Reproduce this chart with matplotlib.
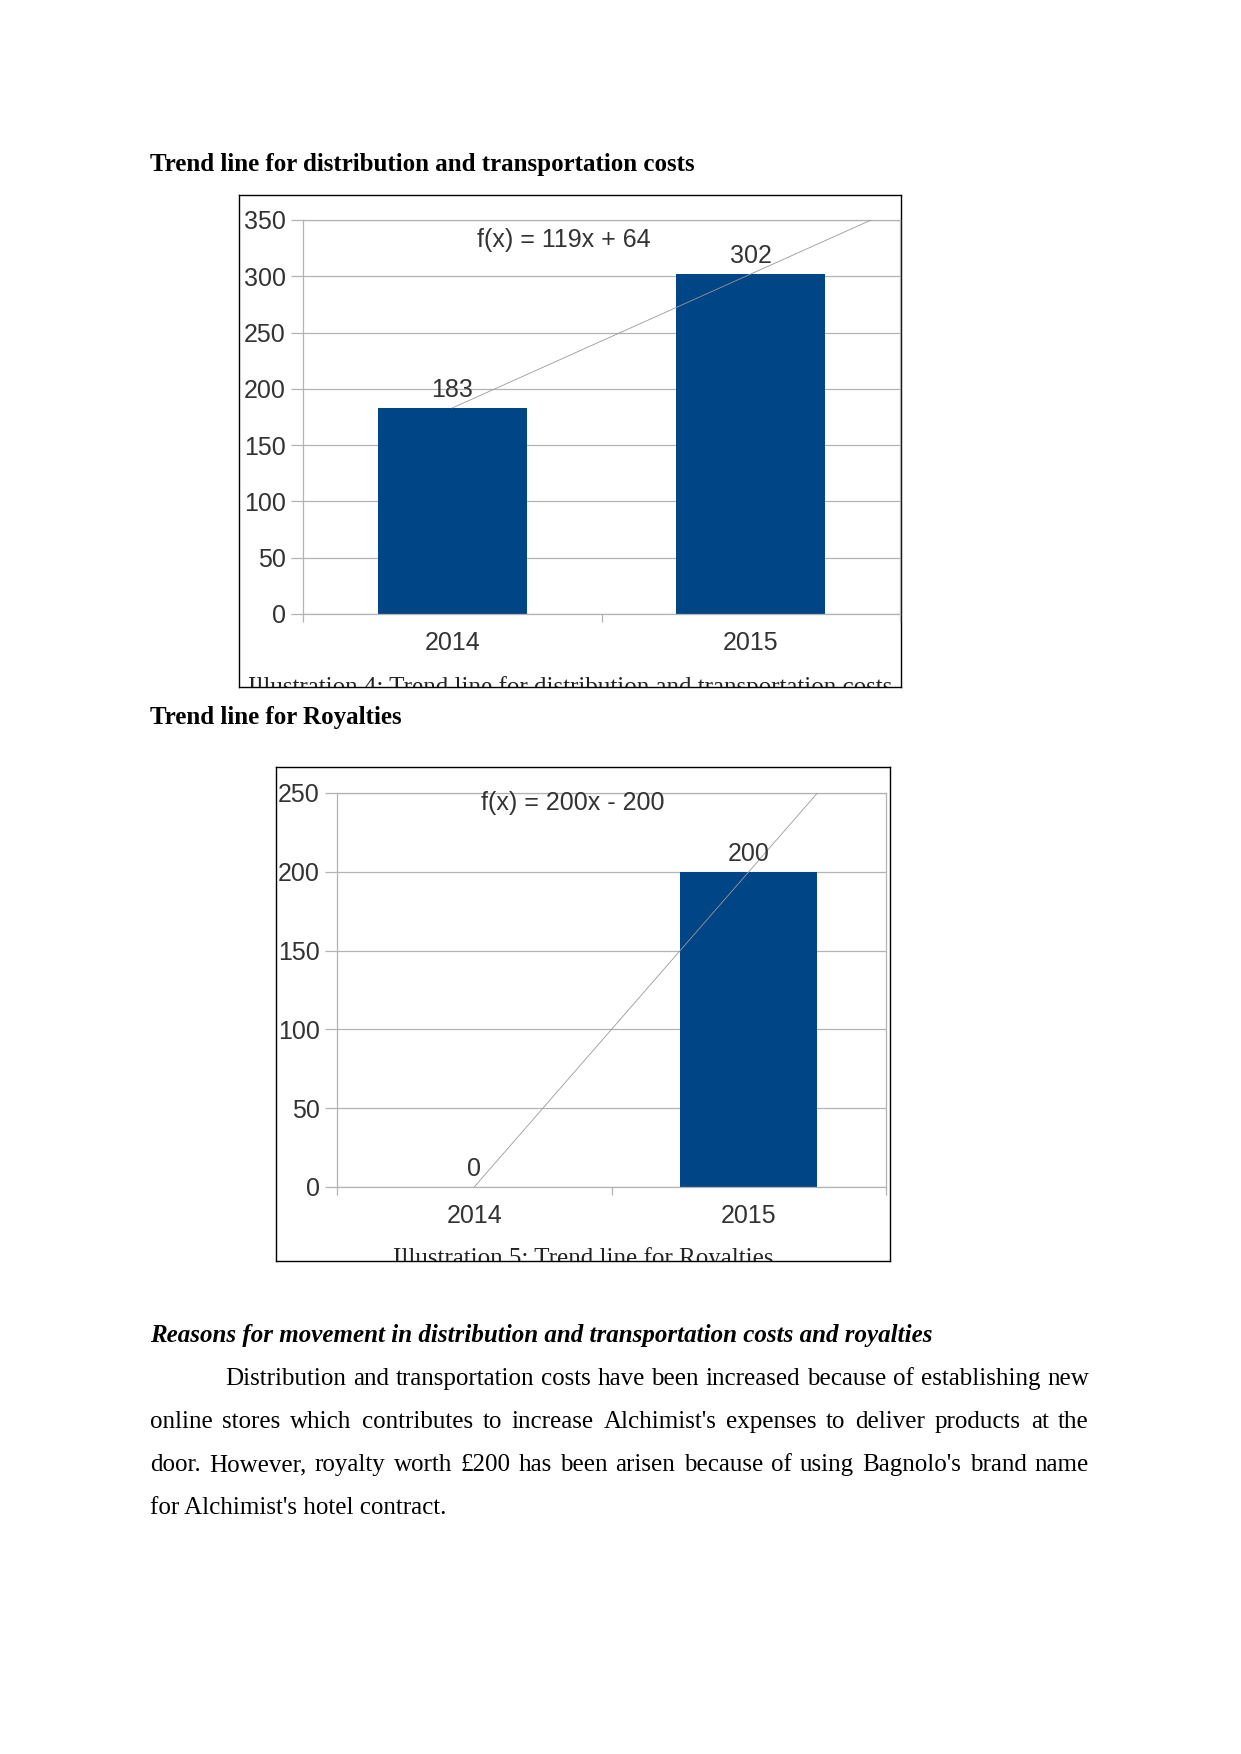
import matplotlib
matplotlib.use('Agg')
import matplotlib.pyplot as plt
import numpy as np

plt.rcParams['font.family'] = ['Liberation Sans', 'DejaVu Sans']

W, H = 1241, 1754

# data
years = ['2014', '2015']
dist_costs = [183, 302]
royalties = [0, 200]
dist_trend = (119, 64)     # f(x) = 119x + 64
roy_trend = (200, -200)    # f(x) = 200x - 200

body_lines = [
    "Distribution and transportation costs have been increased because of establishing new",
    "online stores which contributes to increase Alchimist's expenses to deliver products at the",
    "door. However, royalty worth £200 has been arisen because of using Bagnolo's brand name",
    "for Alchimist's hotel contract.",
]

BAR = '#004586'
GRID = '#b3b3b3'
TXT = '#333333'
SERIF = 'Liberation Serif'

fig = plt.figure(figsize=(W / 100, H / 100), dpi=100)


def box(x0, y0, x1, y1):
    # pixel box (top-left origin) -> figure fraction rect
    return [x0 / W, 1 - y1 / H, (x1 - x0) / W, (y1 - y0) / H]


def chart(frame, plot, vals, trend, ymax, eq, eq_xy, caption, cap_y):
    fa = fig.add_axes(box(*frame))
    fa.set_xticks([])
    fa.set_yticks([])
    for s in fa.spines.values():
        s.set_color('black')
        s.set_linewidth(1.0)
    fa.text(0.5, cap_y, caption, ha='center', va='top', family=SERIF,
            fontsize=18, color='#222222', clip_on=True, transform=fa.transAxes)

    ax = fig.add_axes(box(*plot))
    x = np.arange(len(vals))
    ax.bar(x, vals, width=0.5, color=BAR, zorder=2)

    slope, icpt = trend
    tx = np.array([0, 1.5])
    ax.plot(tx, slope * (tx + 1) + icpt, color='#999999', lw=0.6, zorder=3)

    for xi, v in zip(x, vals):
        ax.annotate(str(v), (xi, v), xytext=(0, 13), textcoords='offset points',
                    ha='center', va='center', fontsize=18, color=TXT, zorder=4)

    ax.text(eq_xy[0], eq_xy[1], eq, transform=ax.transAxes, ha='center',
            va='center', fontsize=18, color=TXT)

    ax.set_xlim(-0.5, 1.5)
    ax.set_ylim(0, ymax)
    ax.set_yticks(range(0, ymax + 1, 50))
    ax.yaxis.grid(True, color=GRID, lw=0.9)
    ax.set_axisbelow(True)
    ax.tick_params(axis='y', length=8.5, width=0.9, color=GRID, pad=4,
                   labelsize=18, labelcolor=TXT)
    ax.set_xticks(x)
    ax.set_xticklabels(years)
    ax.set_xticks([-0.5, 0.5, 1.5], minor=True)
    ax.tick_params(axis='x', which='major', length=0, pad=12, labelsize=18,
                   labelcolor=TXT)
    ax.tick_params(axis='x', which='minor', length=6, width=0.9, color=GRID)
    for s in ax.spines.values():
        s.set_color(GRID)
        s.set_linewidth(0.9)
    ax.set_facecolor('none')


chart((239, 195, 901, 687), (303, 220, 900, 614), dist_costs, dist_trend, 350,
      'f(x) = 119x + 64', (0.437, 0.949),
      'Illustration 4: Trend line for distribution and transportation costs', 0.022)

chart((276, 767, 890, 1261), (337, 793, 886, 1187), royalties, roy_trend, 250,
      'f(x) = 200x - 200', (0.43, 0.975),
      'Illustration 5: Trend line for Royalties', 0.028)

# document text
fig.text(150 / W, 1 - 171 / H, 'Trend line for distribution and transportation costs',
         family=SERIF, weight='bold', fontsize=18, va='baseline')
fig.text(150 / W, 1 - 724 / H, 'Trend line for Royalties',
         family=SERIF, weight='bold', fontsize=18, va='baseline')
fig.text(150 / W, 1 - 1342 / H,
         'Reasons for movement in distribution and transportation costs and royalties',
         family=SERIF, weight='bold', style='italic', fontsize=18, va='baseline')

r = fig.canvas.get_renderer()
left, right = 150, 1089
baselines = [1385, 1428, 1471, 1514]
for i, (line, yb) in enumerate(zip(body_lines, baselines)):
    x0 = 225 if i == 0 else left
    if i == len(body_lines) - 1:
        fig.text(x0 / W, 1 - yb / H, line, family=SERIF, fontsize=18, va='baseline')
        continue
    words = line.split()
    objs = [fig.text(0, 1 - yb / H, w, family=SERIF, fontsize=18, va='baseline')
            for w in words]
    widths = [o.get_window_extent(r).width for o in objs]
    gap = (right - x0 - sum(widths)) / (len(words) - 1)
    xx = x0
    for o, w in zip(objs, widths):
        o.set_x(xx / W)
        xx += w + gap

fig.savefig('out.png', dpi=100)
